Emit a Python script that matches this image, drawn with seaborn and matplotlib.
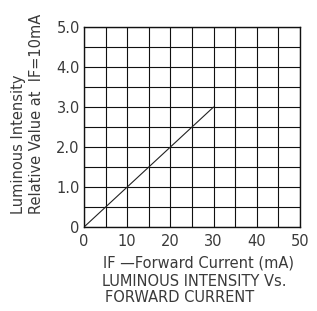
import matplotlib
matplotlib.use("Agg")
import matplotlib.pyplot as plt
from matplotlib.ticker import MultipleLocator
import seaborn as sns
import pandas as pd

sns.set_style("white")
plt.rcParams["font.family"] = ["DejaVu Sans"]

# ── Data ──────────────────────────────────────────────────────────────────────
forward_current = [0, 10, 20, 30]          # mA
relative_intensity = [0.0, 1.0, 2.0, 3.0]  # relative to IF=10mA
x_ticks = [0, 10, 20, 30, 40, 50]
y_ticks = [0, 1, 2, 3, 4, 5]
y_tick_labels = ["0", "1.0", "2.0", "3.0", "4.0", "5.0"]

TEXT = "#3a3a3a"
FS = 10.5

df = pd.DataFrame({"current": forward_current, "intensity": relative_intensity})

fig = plt.figure(figsize=(3.17, 3.11), dpi=100)
ax = fig.add_axes([0.265, 0.270, 0.681, 0.643])

sns.lineplot(data=df, x="current", y="intensity", ax=ax,
             color="#222222", linewidth=0.8)

ax.set_xlim(0, 50)
ax.set_ylim(0, 5)
ax.set_xticks(x_ticks)
ax.set_yticks(y_ticks)
ax.set_yticklabels(y_tick_labels)
ax.xaxis.set_minor_locator(MultipleLocator(5))
ax.yaxis.set_minor_locator(MultipleLocator(0.5))
ax.grid(True, which="both", color="#111111", linewidth=0.8)
ax.tick_params(which="both", length=0, labelsize=FS, labelcolor=TEXT)
ax.tick_params(axis="x", pad=5)
ax.tick_params(axis="y", pad=3)
for s in ax.spines.values():
    s.set_color("#111111")
    s.set_linewidth(1.0)
ax.set_xlabel("")
ax.set_ylabel("")

# y label: two lines, reading bottom-to-top
fig.text(0.088, 0.312, "Luminous Intensity\nRelative Value at  IF=10mA",
         rotation=90, ha="center", va="bottom", multialignment="left",
         fontsize=FS, color=TEXT, linespacing=1.25)

# x label and chart title below
fig.text(0.325, 1 - 263 / 311, "IF \u2014Forward Current (mA)",
         ha="left", va="center", fontsize=FS, color=TEXT)
fig.text(0.322, 1 - 282 / 311, "LUMINOUS INTENSITY Vs.",
         ha="left", va="center", fontsize=FS, color=TEXT)
fig.text(0.331, 1 - 298 / 311, "FORWARD CURRENT",
         ha="left", va="center", fontsize=FS, color=TEXT)

fig.savefig("out.png", dpi=100)
